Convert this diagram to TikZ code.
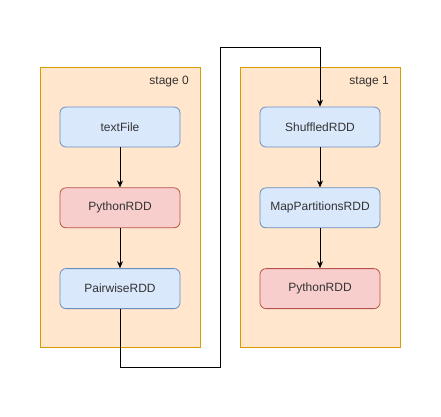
\documentclass[tikz,border=0pt]{standalone}
\usepackage{fontspec}
\setmainfont{Liberation Sans}
\usetikzlibrary{arrows.meta,positioning}
\definecolor{stagefill}{HTML}{FFE6CC}
\definecolor{stagedraw}{HTML}{D79B00}
\definecolor{bluefill}{HTML}{DAE8FC}
\definecolor{bluedraw}{HTML}{6C8EBF}
\definecolor{redfill}{HTML}{F8CECC}
\definecolor{reddraw}{HTML}{B85450}
\definecolor{txt}{HTML}{333333}
\tikzset{
  stagebox/.style={draw=stagedraw, fill=stagefill, line width=0.8pt},
  rdd/.style={draw=bluedraw, fill=bluefill, rounded corners=6pt, minimum width=120pt, minimum height=40pt, inner sep=0pt, font=\fontsize{12}{14}\selectfont, text=txt, line width=0.8pt},
  pyrdd/.style={rdd, draw=reddraw, fill=redfill},
  flow/.style={-{Stealth[length=7pt,width=6pt]}, line width=0.8pt}
}
\begin{document}
\begin{tikzpicture}[x=1pt, y=-1pt]
    \useasboundingbox (0,0) rectangle (441,416);
    \draw[stagebox] (40,67) rectangle (200,347);
    \draw[stagebox] (240,67) rectangle (400,347);
    \node[anchor=east, inner sep=0pt, font=\fontsize{12}{14}\selectfont, text=txt] (lbl0) at (189,82) {stage 0};
    \node[anchor=east, inner sep=0pt, font=\fontsize{12}{14}\selectfont, text=txt] (lbl1) at (389,82) {stage 1};
    % stage 0
    \node[rdd] (text) at (120,127) {textFile};
    \node[pyrdd, below=40pt of text] (py0) {PythonRDD};
    \node[rdd, below=40pt of py0] (pair) {PairwiseRDD};
    % stage 1
    \node[rdd] (shuf) at (320,127) {ShuffledRDD};
    \node[rdd, below=40pt of shuf] (map) {MapPartitionsRDD};
    \node[pyrdd, below=40pt of map] (py1) {PythonRDD};
    \draw[flow] (text) -- (py0);
    \draw[flow] (py0) -- (pair);
    \draw[flow] (shuf) -- (map);
    \draw[flow] (map) -- (py1);
    % shuffle
    \coordinate (low) at (220,367);
    \coordinate (high) at (220,47);
    \draw[flow] (pair.south) |- (low) -- (high) -| (shuf.north);
\end{tikzpicture}
\end{document}
